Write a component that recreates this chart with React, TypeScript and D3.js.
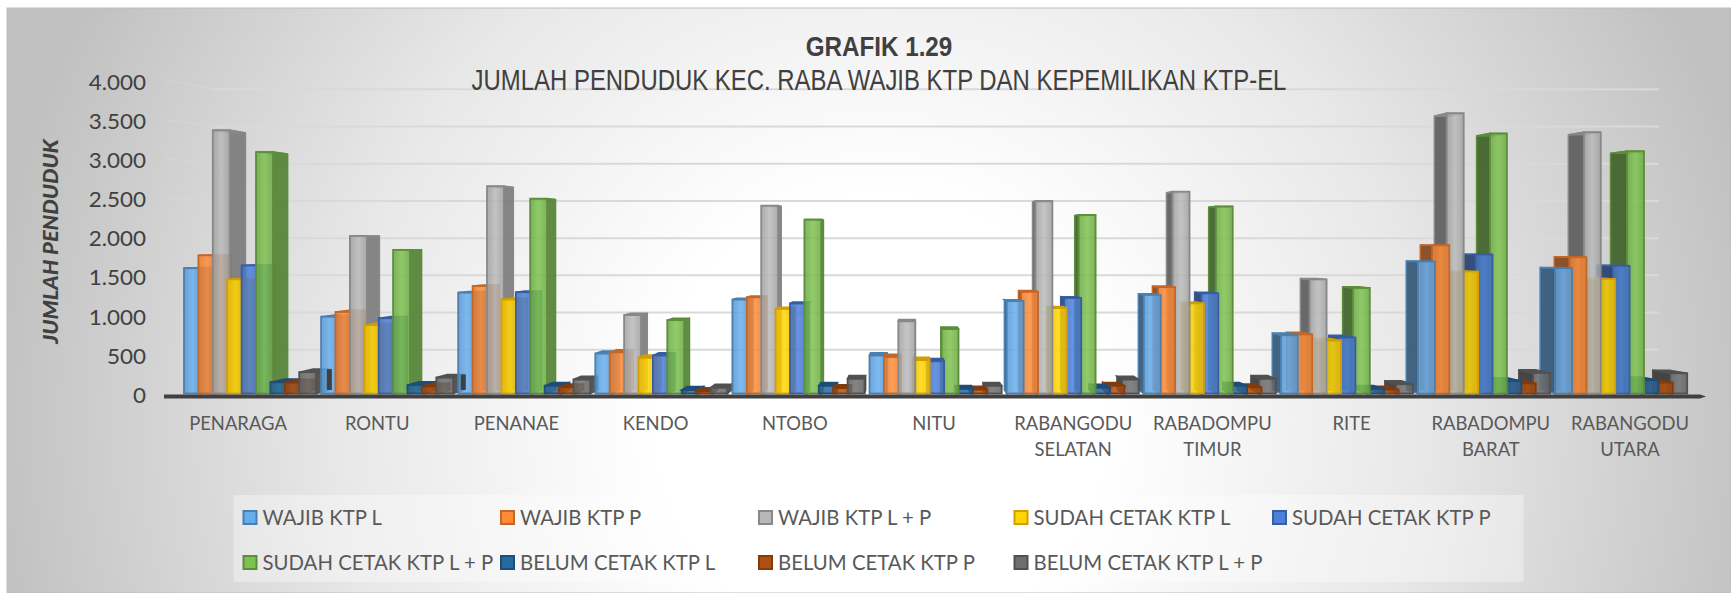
import React from "react";
import * as d3 from "d3";

const categories = [["PENARAGA"],["RONTU"],["PENANAE"],["KENDO"],["NTOBO"],["NITU"],["RABANGODU","SELATAN"],["RABADOMPU","TIMUR"],["RITE"],["RABADOMPU","BARAT"],["RABANGODU","UTARA"]];
const seriesNames = ["WAJIB KTP L","WAJIB KTP P","WAJIB KTP L + P","SUDAH CETAK KTP L","SUDAH CETAK KTP P","SUDAH CETAK KTP L + P","BELUM CETAK KTP L","BELUM CETAK KTP P","BELUM CETAK KTP L + P"];
const wajibL = [1615,990,1300,515,1210,490,1190,1270,750,1700,1615];
const wajibP = [1780,1050,1385,530,1240,470,1310,1370,760,1910,1755];
const wajibLP = [3390,2030,2670,1010,2420,930,2480,2600,1470,3610,3365];
const sudahL = [1470,880,1210,460,1090,430,1100,1160,680,1570,1475];
const sudahP = [1650,970,1305,490,1160,415,1230,1290,720,1790,1645];
const sudahLP = [3110,1850,2510,945,2240,830,2300,2410,1360,3350,3120];
const belumL = [145,110,100,45,100,60,75,100,60,160,170];
const belumP = [140,90,80,30,70,50,100,80,50,130,140];
const belumLP = [275,205,180,75,190,100,180,190,120,265,260];
const allSeries = [wajibL,wajibP,wajibLP,sudahL,sudahP,sudahLP,belumL,belumP,belumLP];
const fills = ["#5B9BD5","#ED7D31","#A5A5A5","#FFC000","#4472C4","#70AD47","#255E91","#9E480E","#636363"];
const yTicks = [0,500,1000,1500,2000,2500,3000,3500,4000];
const tickLabels = ["0","500","1.000","1.500","2.000","2.500","3.000","3.500","4.000"];

const W = 1731, H = 593;
const VPX = 910, VPY = 240, K = 0.023;
const y = d3.scaleLinear().domain([0,4000]).range([393.5,83]);
const yBack = d3.scaleLinear().domain([0,4000]).range([387,89.3]);
const yWall = d3.scaleLinear().domain([0,4000]).range([395,80]);
const yLabel = d3.scaleLinear().domain([0,4000]).range([403,89.5]);
const idx = d3.range(categories.length);
const groupX = d3.scaleLinear().domain([0,10]).range([184,1555]);
const labelX = d3.scaleLinear().domain([0,10]).range([238,1630]);
const barStep = 14.4, barW = 17;
const bx = (v:number)=>VPX+(v-VPX)*(1-K);
const by = (v:number)=>VPY+(v-VPY)*(1-K);
const poly = (p:number[][])=>p.map(a=>a.join(",")).join(" ");

type Bar = {key:string;s:number;g:number;x0:number;x1:number;v:number};
const bars:Bar[] = [];
idx.forEach(g=>allSeries.forEach((vals,s)=>{
  const x0 = groupX(g)+s*barStep;
  bars.push({key:`${g}-${s}`,s,g,x0,x1:x0+barW,v:vals[g]});
}));
bars.sort((a,b)=>Math.abs(b.x0+barW/2-VPX)-Math.abs(a.x0+barW/2-VPX));
// The last bar's side pokes through the next group's first bar where they overlap.
const slivers = bars.filter(b=>b.s===8 && b.g<10 && bx(b.x1)-groupX(b.g+1)>4);

function Txt({x,yy,sx=1,anchor="start",size,fill="#595959",family="Lato",weight=400,style="normal",children}:any){
  return <text transform={`translate(${x},${yy}) scale(${sx},1)`} textAnchor={anchor} fontSize={size} fill={fill} fontFamily={family} fontWeight={weight} fontStyle={style}>{children}</text>;
}

export default function App(){
  return (
    <svg width={W} height={H} style={{position:"absolute",left:0,top:0,display:"block"}}>
      <defs>
        <radialGradient id="bg" gradientUnits="userSpaceOnUse" cx={880} cy={420} r={900}>
          <stop offset="0" stopColor="#FFFFFF"/>
          <stop offset="0.25" stopColor="#FFFFFF"/>
          <stop offset="0.6" stopColor="#E8E8E8"/>
          <stop offset="1" stopColor="#C0C0C0"/>
        </radialGradient>
        {fills.map((f,i)=>{
          const c = d3.color(f)!;
          return <linearGradient key={i} id={`g${i}`} x1="0" x2="1" y1="0" y2="0">
            <stop offset="0" stopColor={c.darker(0.1).formatHex()}/>
            <stop offset="0.5" stopColor={c.brighter(0.35).formatHex()}/>
            <stop offset="1" stopColor={c.darker(0.1).formatHex()}/>
          </linearGradient>;
        })}
      </defs>
      <rect x={7} y={8} width={W-7} height={H-8} fill="url(#bg)" stroke="#BDBDBD" strokeWidth={1}/>
      {yTicks.map(t=>(
        <g key={t}>
          <line x1={165} x2={215} y1={yWall(t)} y2={yBack(t)} stroke="#D9D9D9" strokeOpacity={0.45} strokeWidth={1.5}/>
          {t>0 && <line x1={215} x2={1659} y1={yBack(t)} y2={yBack(t)} stroke="#D9D9D9" strokeWidth={2}/>}
        </g>
      ))}
      {yTicks.map((t,i)=>(
        <Txt key={t} x={146} yy={yLabel(t)} sx={1.02} anchor="end" size={22} fill="#404040">{tickLabels[i]}</Txt>
      ))}
      <g transform="translate(58,241.5) rotate(-90)">
        <Txt x={0} yy={0} sx={1.04} anchor="middle" size={21} fill="#404040" weight={900} style="italic">JUMLAH PENDUDUK</Txt>
      </g>
      <Txt x={879} yy={56} sx={0.88} anchor="middle" size={27.5} fill="#404040" family="Liberation Sans" weight={700}>GRAFIK 1.29</Txt>
      <Txt x={879} yy={90} sx={0.825} anchor="middle" size={29} fill="#404040" family="Liberation Sans">JUMLAH PENDUDUK KEC. RABA WAJIB KTP DAN KEPEMILIKAN KTP-EL</Txt>

      {bars.map(b=>{
        const top=y(b.v), base=y(0);
        const left = (b.x0+b.x1)/2 < VPX;
        const c=d3.color(fills[b.s])!;
        const edge=c.darker(0.55).formatHex();
        const sideX=left?b.x1:b.x0;
        const side=c.darker(left?0.8:1.6).formatHex();
        return <g key={b.key}>
          <polygon points={poly([[sideX,top],[bx(sideX),by(top)],[bx(sideX),by(base)],[sideX,base]])} fill={side} fillOpacity={0.92} stroke={edge} strokeWidth={1.5}/>
          <polygon points={poly([[b.x0,top],[b.x1,top],[bx(b.x1),by(top)],[bx(b.x0),by(top)]])} fill={edge} stroke={edge} strokeWidth={1.5}/>
          <rect x={b.x0} y={top} width={barW} height={base-top} fill={`url(#g${b.s})`} fillOpacity={0.86} stroke={edge} strokeWidth={1.8}/>
        </g>;
      })}
      {slivers.map(b=>{
        const top=by(y(b.v)), base=by(y(0)), xb=bx(b.x1)+2;
        return <rect key={b.key} x={xb-5} y={top} width={5} height={base-top} fill="#404040"/>;
      })}
      <polygon points={poly([[164,394.5],[1700,394.5],[1706,396.5],[1700,398.5],[164,398.5]])} fill="#404040"/>
      {idx.map(g=>categories[g].map((line,j)=>(
        <Txt key={`${g}-${j}`} x={labelX(g)} yy={430+j*26} sx={0.97} anchor="middle" size={19} fill="#595959">{line}</Txt>
      )))}
      <rect x={233.5} y={495} width={1290} height={87} fill="#FFFFFF" fillOpacity={0.35}/>
      {seriesNames.map((n,i)=>{
        const rowStart=i<5?0:5, row=i<5?0:1;
        const lx=[242.5,500,758,1013.5,1272][i-rowStart];
        const ly=510+row*45;
        const c=d3.color(fills[i])!;
        return <g key={n}>
          <rect x={lx+1} y={ly+1} width={13} height={13} fill={c.brighter(0.3).formatHex()} stroke={c.darker(0.55).formatHex()} strokeWidth={2}/>
          <Txt x={lx+20} yy={ly+15} sx={0.97} size={21} fill="#595959">{n}</Txt>
        </g>;
      })}
    </svg>
  );
}
